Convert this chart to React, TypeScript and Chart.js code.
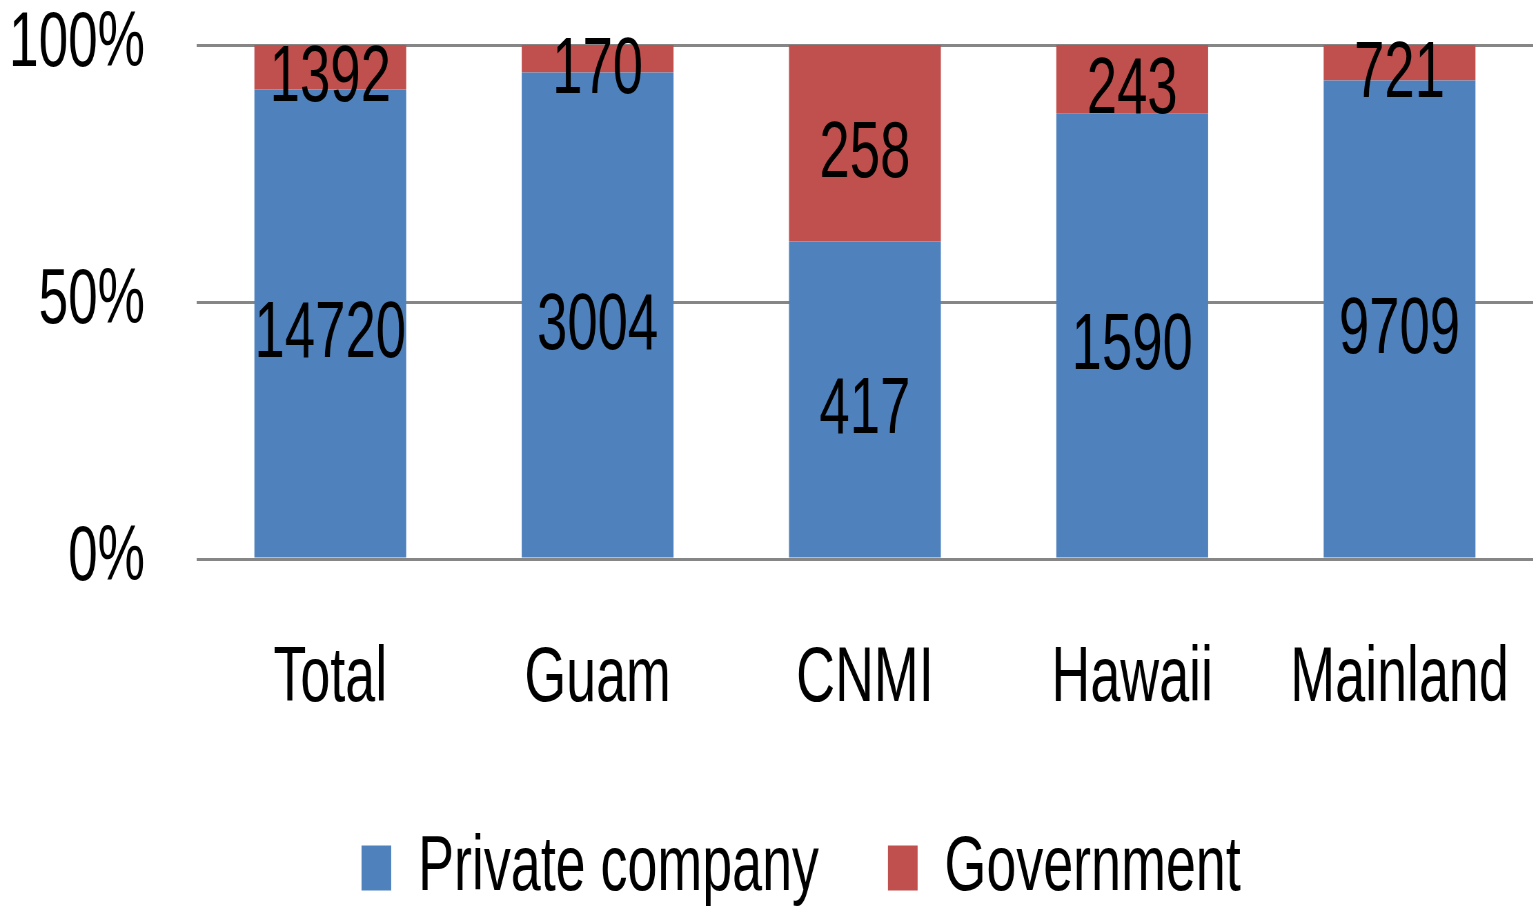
import React, { useEffect, useRef } from 'react';
import { Chart, registerables } from 'chart.js';

Chart.register(...registerables);

const categories = ['Total', 'Guam', 'CNMI', 'Hawaii', 'Mainland'];
const privateCounts = [14720, 3004, 417, 1590, 9709];
const governmentCounts = [1392, 170, 258, 243, 721];
const yTicks = [0, 50, 100];
const seriesNames = ['Private company', 'Government'];
const seriesColors = ['#4F81BD', '#C0504D'];

const W = 1533;
const H = 910;
const CH = 917; // canvas is a little taller; the bottom is clipped
const SX = 0.69; // horizontal compression of the whole drawing
const IW = Math.round(W / SX);
const FONT = '"Liberation Sans", Arial, sans-serif';
const LEGEND_SHIFT = 50;

const countsBySeries = [privateCounts, governmentCounts];
const totals = categories.map((_, i) => privateCounts[i] + governmentCounts[i]);
const share = (arr: number[]) => arr.map((v, i) => (v / totals[i]) * 100);

const valueLabels = {
  id: 'valueLabels',
  afterDatasetsDraw(chart: any) {
    const ctx = chart.ctx;
    ctx.save();
    ctx.font = `79px ${FONT}`;
    ctx.fillStyle = '#000000';
    ctx.textAlign = 'center';
    ctx.textBaseline = 'middle';
    chart.data.datasets.forEach((_: any, di: number) => {
      const meta = chart.getDatasetMeta(di);
      meta.data.forEach((bar: any, i: number) => {
        const yc = (bar.y + bar.base) / 2;
        ctx.fillText(String(countsBySeries[di][i]), bar.x, yc + 12);
      });
    });
    ctx.restore();
  },
};

const legendShift = {
  id: 'legendShift',
  afterLayout(chart: any) {
    if (chart.legend) {
      chart.legend.left += LEGEND_SHIFT;
      chart.legend.right += LEGEND_SHIFT;
    }
  },
};

export default function App() {
  const ref = useRef<HTMLCanvasElement | null>(null);

  useEffect(() => {
    if (!ref.current) return;
    const chart = new Chart(ref.current, {
      type: 'bar',
      data: {
        labels: categories,
        datasets: [
          {
            label: seriesNames[0],
            data: share(privateCounts),
            backgroundColor: seriesColors[0],
            borderWidth: 0,
            categoryPercentage: 1,
            barPercentage: 0.568,
          },
          {
            label: seriesNames[1],
            data: share(governmentCounts),
            backgroundColor: seriesColors[1],
            borderWidth: 0,
            categoryPercentage: 1,
            barPercentage: 0.568,
          },
        ],
      },
      options: {
        animation: false,
        responsive: true,
        maintainAspectRatio: false,
        layout: { padding: { top: 45, right: 0, bottom: 0, left: 0 } },
        plugins: {
          tooltip: { enabled: false },
          legend: {
            position: 'bottom',
            labels: {
              font: { family: FONT, size: 78, lineHeight: 1.2 },
              color: '#000000',
              boxWidth: 43,
              boxHeight: 45,
              padding: 100,
            },
          },
        },
        scales: {
          x: {
            stacked: true,
            grid: { display: false, drawTicks: false },
            border: { display: false },
            ticks: {
              font: { family: FONT, size: 78, lineHeight: 1.2 },
              color: '#000000',
              padding: 74,
            },
            afterFit: (s: any) => {
              s.height = 170;
              s.paddingLeft = 0;
              s.paddingRight = 0;
            },
          },
          y: {
            stacked: true,
            min: 0,
            max: 100,
            grid: { color: '#868686', lineWidth: 3, drawTicks: false },
            border: { display: false },
            ticks: {
              font: { family: FONT, size: 77, lineHeight: 1.0 },
              color: '#000000',
              padding: 75,
              callback: (v: any) => `${v}%`,
            },
            afterBuildTicks: (s: any) => {
              s.ticks = yTicks.map((v) => ({ value: v }));
            },
            afterFit: (s: any) => {
              s.width = 285;
              s.paddingTop = 0;
              s.paddingBottom = 0;
            },
          },
        },
      },
      plugins: [valueLabels, legendShift],
    });
    return () => chart.destroy();
  }, []);

  return (
    <div
      style={{
        position: 'absolute',
        left: 0,
        top: 0,
        width: W,
        height: H,
        overflow: 'hidden',
        background: '#ffffff',
      }}
    >
      <div
        style={{
          width: IW,
          height: CH,
          transform: `scaleX(${SX})`,
          transformOrigin: '0 0',
          position: 'relative',
        }}
      >
        <canvas ref={ref} />
      </div>
    </div>
  );
}
